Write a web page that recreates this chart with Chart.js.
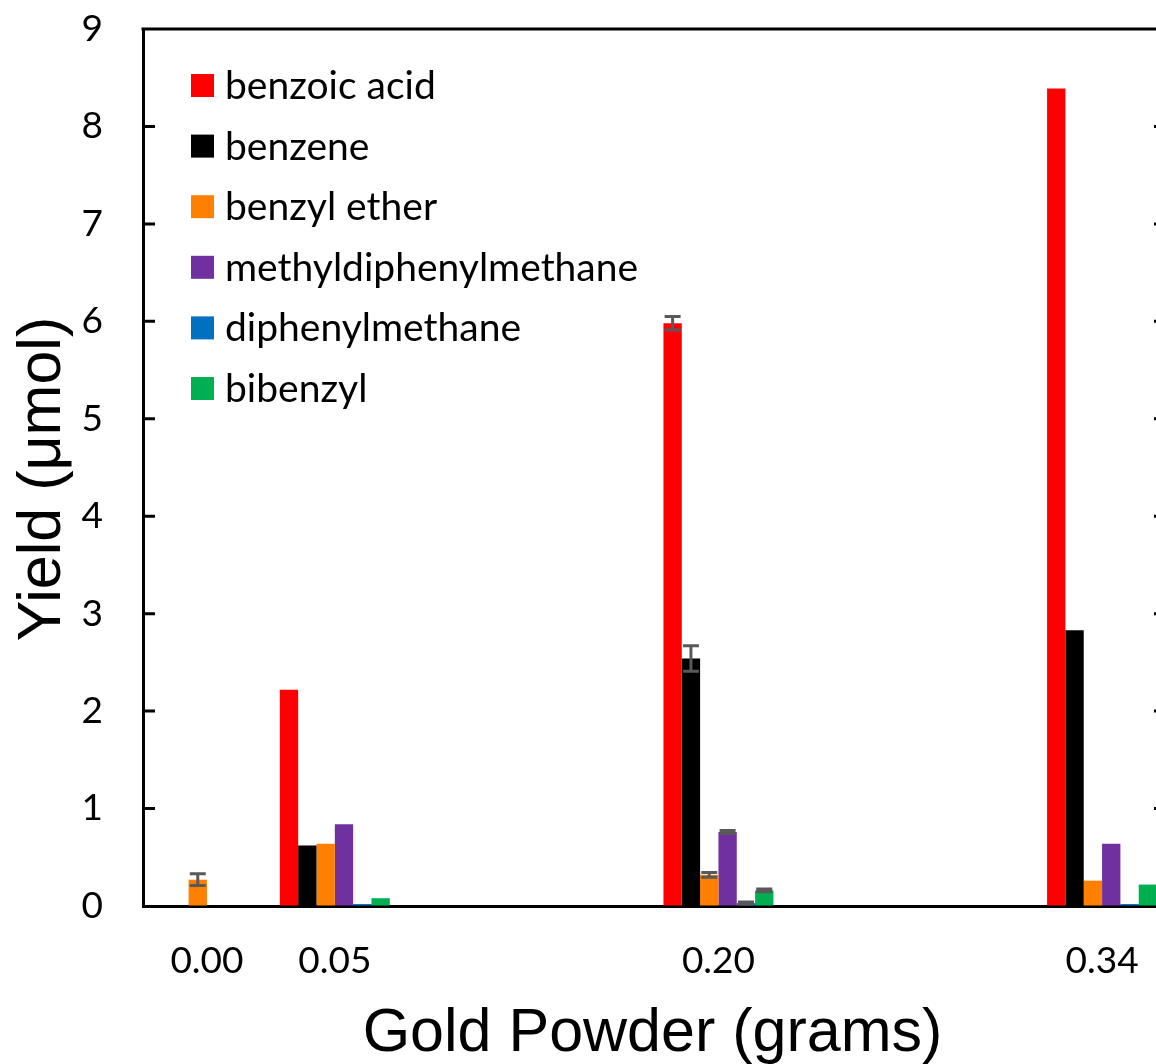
<!DOCTYPE html>
<html><head><meta charset="utf-8">
<script src="https://cdn.jsdelivr.net/npm/chart.js@4.4.1/dist/chart.umd.min.js"></script>
<style>
html,body{margin:0;padding:0;overflow:hidden;background:#fff;width:1156px;height:1064px}
#wrap{position:absolute;left:0;top:0;width:1180px;height:1064px}
</style>
</head><body><div id="wrap"><canvas id="c"></canvas></div>
<script>
// Categories (empty slots keep the original uneven spacing)
const categories = ['0.00', '0.05', '', '', '0.20', '', '', '0.34'];
const seriesNames = ['benzoic acid', 'benzene', 'benzyl ether', 'methyldiphenylmethane', 'diphenylmethane', 'bibenzyl'];
const seriesColors = ['#FF0000', '#000000', '#FF7F00', '#7030A0', '#0070C0', '#00B050'];

const benzoicAcid   = [0,    2.22, null, null, 5.98, null, null, 8.39];
const benzene       = [0,    0.62, null, null, 2.54, null, null, 2.83];
const benzylEther   = [0.27, 0.64, null, null, 0.32, null, null, 0.26];
const methylDPM     = [0,    0.84, null, null, 0.76, null, null, 0.64];
const diphenylMeth  = [0,    0.02, null, null, 0.03, null, null, 0.02];
const bibenzyl      = [0,    0.08, null, null, 0.16, null, null, 0.22];

const benzoicAcidErr  = [null, null, null, null, 0.07,  null, null, null];
const benzeneErr      = [null, null, null, null, 0.13,  null, null, null];
const benzylEtherErr  = [0.06, null, null, null, 0.025, null, null, null];
const methylDPMErr    = [null, null, null, null, 0.015, null, null, null];
const diphenylMethErr = [null, null, null, null, 0.01,  null, null, null];
const bibenzylErr     = [null, null, null, null, 0.015, null, null, null];

const yMin = 0, yMax = 9, yStep = 1;
const xTitle = 'Gold Powder (grams)';
const yTitle = 'Yield (μmol)';

const seriesValues = [benzoicAcid, benzene, benzylEther, methylDPM, diphenylMeth, bibenzyl];
const seriesErrors = [benzoicAcidErr, benzeneErr, benzylEtherErr, methylDPMErr, diphenylMethErr, bibenzylErr];

const TICK_FONT = {family: 'Lato', size: 37, lineHeight: 1};

const errorBars = {
  id: 'errorBars',
  afterDatasetsDraw(chart) {
    const ctx = chart.ctx, y = chart.scales.y;
    ctx.save();
    ctx.strokeStyle = '#595959';
    ctx.lineWidth = 3;
    chart.data.datasets.forEach((ds, di) => {
      const meta = chart.getDatasetMeta(di);
      ds.errors.forEach((e, i) => {
        if (e == null || ds.data[i] == null) return;
        const el = meta.data[i];
        const x = el.x, v = ds.data[i];
        const yt = y.getPixelForValue(v + e), yb = y.getPixelForValue(Math.max(0, v - e));
        const cw = 8;
        ctx.beginPath();
        ctx.moveTo(x, yt); ctx.lineTo(x, yb);
        ctx.moveTo(x - cw, yt); ctx.lineTo(x + cw, yt);
        ctx.moveTo(x - cw, yb); ctx.lineTo(x + cw, yb);
        ctx.stroke();
      });
    });
    ctx.restore();
  }
};

const frame = {
  id: 'frame',
  afterDraw(chart) {
    const ctx = chart.ctx, a = chart.chartArea, y = chart.scales.y;
    ctx.save();
    ctx.strokeStyle = '#000';
    ctx.lineWidth = 3;
    ctx.beginPath();
    ctx.moveTo(a.left - 1.5, a.top); ctx.lineTo(a.right + 1.5, a.top);
    ctx.moveTo(a.right, a.top); ctx.lineTo(a.right, a.bottom);
    for (let v = yMin + yStep; v < yMax; v += yStep) {
      const py = y.getPixelForValue(v);
      ctx.moveTo(a.left, py); ctx.lineTo(a.left + 12, py);
      ctx.moveTo(a.right, py); ctx.lineTo(a.right - 12, py);
    }
    ctx.stroke();
    // legend inside plot
    ctx.font = '39px Lato';
    ctx.textBaseline = 'middle';
    ctx.textAlign = 'left';
    chart.data.datasets.forEach((ds, i) => {
      const cy = 85.5 + i * 60.6;
      ctx.fillStyle = ds.backgroundColor;
      ctx.fillRect(191, cy - 11.5, 23, 23);
      ctx.fillStyle = '#000';
      ctx.fillText(ds.label, 225, cy + 1);
    });
    // axis titles
    ctx.fillStyle = '#000';
    ctx.textAlign = 'center';
    ctx.textBaseline = 'alphabetic';
    ctx.font = '61px "Liberation Sans"';
    ctx.fillText(xTitle, 652.5, 1051);
    ctx.save();
    ctx.translate(60, 479);
    ctx.rotate(-Math.PI / 2);
    ctx.font = '61px "Liberation Sans"';
    ctx.fillText(yTitle, 0, 0);
    ctx.restore();
    ctx.restore();
  }
};

new Chart(document.getElementById('c'), {
  type: 'bar',
  data: {
    labels: categories,
    datasets: seriesNames.map((n, i) => ({
      label: n,
      data: seriesValues[i],
      errors: seriesErrors[i],
      backgroundColor: seriesColors[i],
      borderWidth: 0,
      categoryPercentage: 0.86,
      barPercentage: 1.0
    }))
  },
  options: {
    responsive: true,
    maintainAspectRatio: false,
    animation: false,
    layout: {padding: {left: 0, top: 29, right: 14, bottom: 0}},
    plugins: {legend: {display: false}, tooltip: {enabled: false}},
    scales: {
      x: {
        grid: {drawOnChartArea: false, drawTicks: false, color: 'rgba(0,0,0,0)'},
        border: {display: true, color: '#000', width: 3},
        ticks: {color: '#000', font: TICK_FONT, padding: 37, autoSkip: false, maxRotation: 0},
        afterFit(s) { s.height = 158; s.paddingLeft = 0; s.paddingRight = 0; }
      },
      y: {
        min: yMin, max: yMax,
        grid: {drawOnChartArea: false, drawTicks: false, color: 'rgba(0,0,0,0)'},
        border: {display: true, color: '#000', width: 3},
        ticks: {stepSize: yStep, color: '#000', font: TICK_FONT, padding: 40},
        afterFit(s) { s.width = 143; s.paddingTop = 0; s.paddingBottom = 0; }
      }
    }
  },
  plugins: [errorBars, frame]
});
</script>
</body></html>
